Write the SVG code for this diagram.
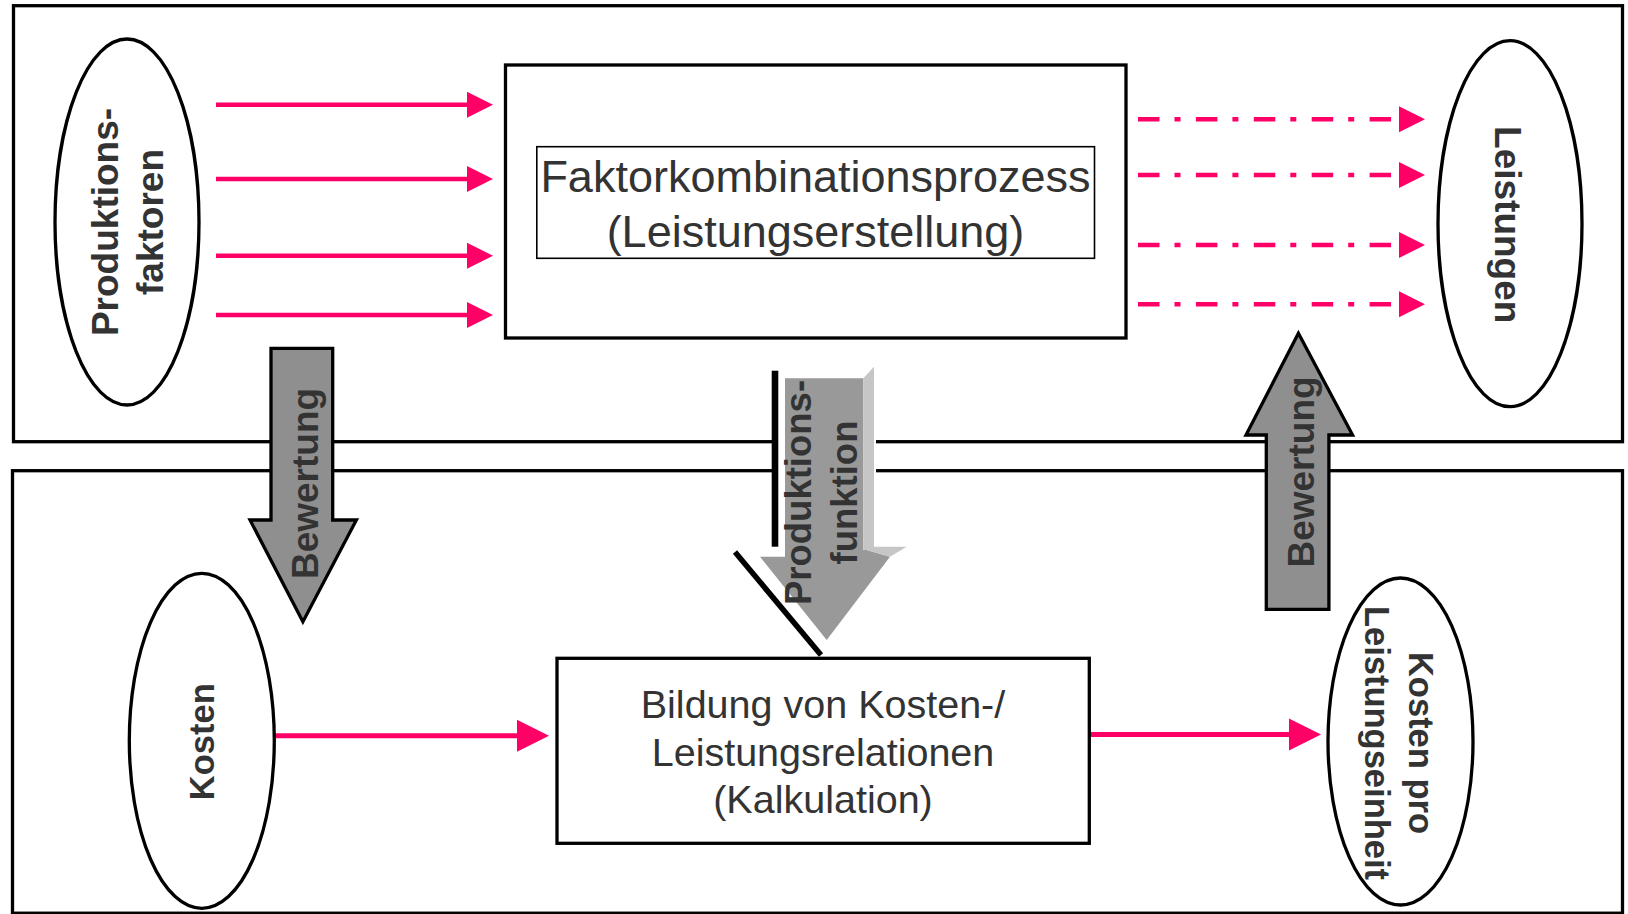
<svg xmlns="http://www.w3.org/2000/svg" width="1628" height="914" viewBox="0 0 1628 914">
<style>
.frame{fill:none;stroke:#000;stroke-width:3.3}
.box{fill:#fff;stroke:#000;stroke-width:3.3}
.ell{fill:#fff;stroke:#000;stroke-width:3.3}
.lbl{font-family:"Liberation Sans",Arial,sans-serif;font-weight:bold;fill:#333;text-anchor:middle}
.reg{font-family:"Liberation Sans",Arial,sans-serif;fill:#333;text-anchor:middle}
.pink{stroke:#FF0066;stroke-width:4.5;fill:none}
.pinkb{stroke:#FF0066;stroke-width:5;fill:none}
.dd{stroke-dasharray:21.5 15 6 15.4}
.garrow{fill:#8F8F8F;stroke:#000;stroke-width:3.3;stroke-linejoin:miter}
</style>
<defs>
<marker id="ah" markerUnits="userSpaceOnUse" markerWidth="26" markerHeight="26" refX="0" refY="13" orient="auto" overflow="visible">
<path d="M0,0 L26,13 L0,26 z" fill="#FF0066"/>
</marker>
<marker id="ahb" markerUnits="userSpaceOnUse" markerWidth="32" markerHeight="32" refX="0" refY="16" orient="auto" overflow="visible">
<path d="M0,0 L32,16 L0,32 z" fill="#FF0066"/>
</marker>
</defs>
<rect width="1628" height="914" fill="#fff"/>

<g id="frame-top"><rect class="frame" x="13.5" y="5.7" width="1609" height="436"/></g>
<g id="frame-bottom"><rect class="frame" x="12.5" y="470.7" width="1610" height="442.5"/></g>

<g id="connectors">
<line class="pink" x1="216" y1="104.7" x2="467" y2="104.7" marker-end="url(#ah)"/>
<line class="pink" x1="216" y1="179" x2="467" y2="179" marker-end="url(#ah)"/>
<line class="pink" x1="216" y1="255.7" x2="467" y2="255.7" marker-end="url(#ah)"/>
<line class="pink" x1="216" y1="315" x2="467" y2="315" marker-end="url(#ah)"/>
<line class="pink dd" x1="1138" y1="119.3" x2="1399" y2="119.3" marker-end="url(#ah)"/>
<line class="pink dd" x1="1138" y1="175" x2="1399" y2="175" marker-end="url(#ah)"/>
<line class="pink dd" x1="1138" y1="245" x2="1399" y2="245" marker-end="url(#ah)"/>
<line class="pink dd" x1="1138" y1="304.3" x2="1399" y2="304.3" marker-end="url(#ah)"/>
<line class="pinkb" x1="275" y1="735.7" x2="517" y2="735.7" marker-end="url(#ahb)"/>
<line class="pinkb" x1="1089" y1="734.6" x2="1289" y2="734.6" marker-end="url(#ahb)"/>
</g>

<g id="produktionsfaktoren">
<ellipse class="ell" cx="127" cy="222" rx="72" ry="183"/>
<text class="lbl" font-size="37" transform="translate(127,222) rotate(-90)"><tspan x="0" y="-9">Produktions-</tspan><tspan x="0" y="36">faktoren</tspan></text>
</g>

<g id="faktorkombination">
<rect class="box" x="505.5" y="65" width="620.5" height="273"/>
<rect x="536.8" y="146.7" width="557.7" height="111.6" fill="none" stroke="#000" stroke-width="1.6"/>
<text class="reg" font-size="45" x="815.5" y="192">Faktorkombinationsprozess</text>
<text class="reg" font-size="45" x="815.5" y="246.5">(Leistungserstellung)</text>
</g>

<g id="leistungen">
<ellipse class="ell" cx="1510" cy="223.7" rx="72" ry="183"/>
<text class="lbl" font-size="37" transform="translate(1510,224.7) rotate(90)" x="0" y="15">Leistungen</text>
</g>

<g id="kosten">
<ellipse class="ell" cx="201.8" cy="740.8" rx="72.5" ry="167.5"/>
<text class="lbl" font-size="34.5" transform="translate(202,741.7) rotate(-90)" x="0" y="12">Kosten</text>
</g>

<g id="kalkulation">
<rect class="box" x="557" y="658.3" width="532.3" height="185"/>
<text class="reg" font-size="39.5" x="823" y="718.3">Bildung von Kosten-/</text>
<text class="reg" font-size="39.5" x="823" y="766">Leistungsrelationen</text>
<text class="reg" font-size="39.5" x="823" y="813.3">(Kalkulation)</text>
</g>

<g id="kosten-pro-leistungseinheit">
<ellipse class="ell" cx="1400.5" cy="741.5" rx="72.5" ry="163.5"/>
<text class="lbl" font-size="34.5" transform="translate(1400.5,743) rotate(90)"><tspan x="0" y="-8">Kosten pro</tspan><tspan x="0" y="35.6">Leistungseinheit</tspan></text>
</g>

<g id="bewertung-links">
<polygon class="garrow" points="271,348.3 332.7,348.3 332.7,520 356.4,520 302.9,621.7 250,520 271,520"/>
<text class="lbl" font-size="37" transform="translate(302,483.5) rotate(-90)" x="0" y="16">Bewertung</text>
</g>

<g id="bewertung-rechts">
<polygon class="garrow" points="1298.4,333.3 1352.6,435 1328.9,435 1328.9,609.3 1266.3,609.3 1266.3,435 1246,435"/>
<text class="lbl" font-size="37" transform="translate(1297.6,472) rotate(-90)" x="0" y="16.5">Bewertung</text>
</g>

<g id="produktionsfunktion">
<polygon points="778,366 876,366 876,546 910,546 826,656 742,552 778,552" fill="#fff"/>
<polygon points="778.3,370.7 785,378.3 785,556.7 760,556.7 751.7,551.7 778.3,551.7" fill="#fff"/>
<polygon points="785,378.3 863.3,378.3 863.3,550 866.7,550 890,556.7 826.7,640 760,556.7 785,556.7" fill="#999"/>
<polygon points="863.3,378.3 874,366.7 874,546.7 906.7,546.7 890,556.7 866.7,550 863.3,550" fill="#C6C6C6"/>
<rect x="771.7" y="370.7" width="6.6" height="176" fill="#000"/>
<line x1="735" y1="552" x2="821" y2="655" stroke="#000" stroke-width="5.5"/>
<text class="lbl" font-size="36.5" transform="translate(822,492.5) rotate(-90)"><tspan x="0" y="-11">Produktions-</tspan><tspan x="0" y="34.7">funktion</tspan></text>
</g>
</svg>
